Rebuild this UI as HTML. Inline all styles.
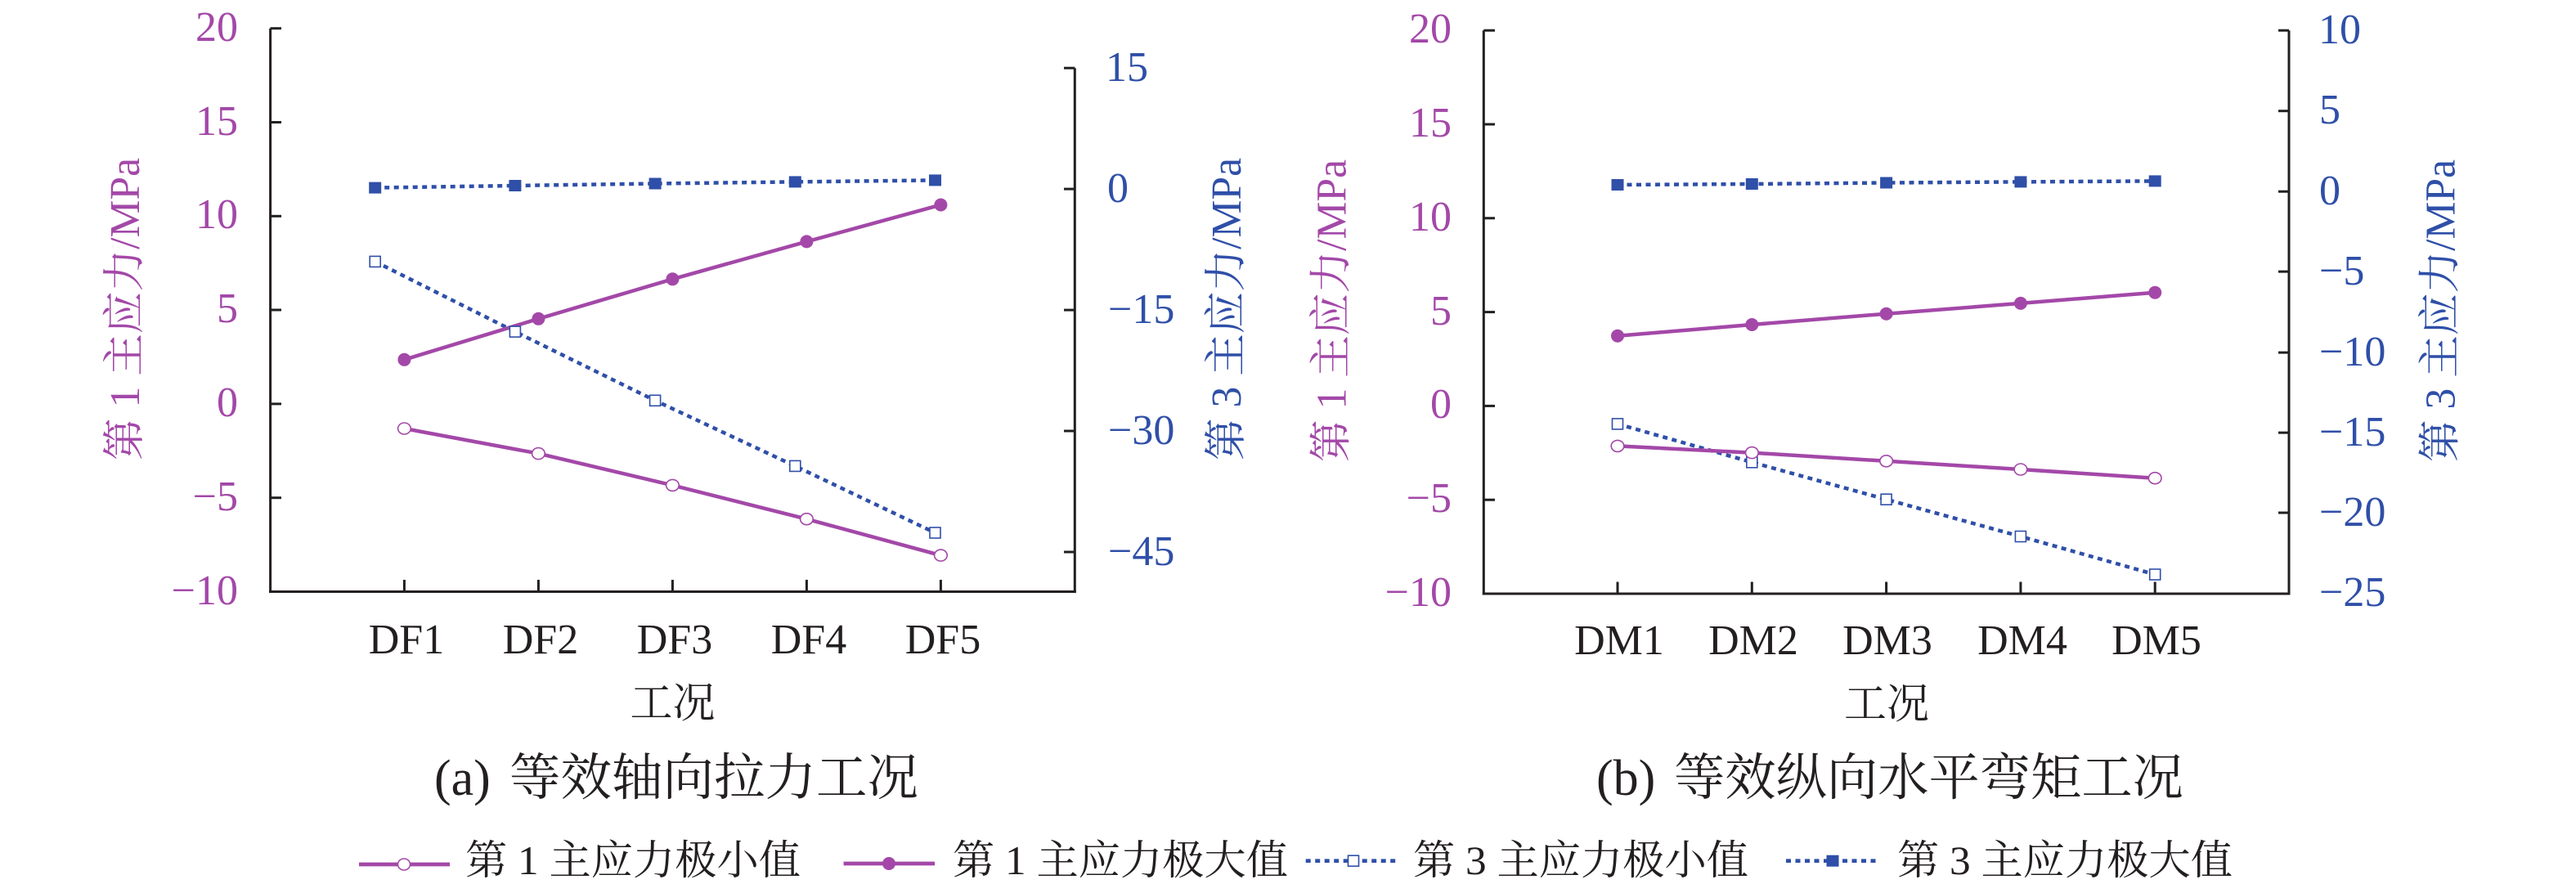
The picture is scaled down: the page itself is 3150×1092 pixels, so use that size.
<!DOCTYPE html>
<html>
<head>
<meta charset="utf-8">
<style>
html,body{margin:0;padding:0;background:#fff;}
svg{display:block;}
.t{font-family:"Liberation Serif","Noto Serif CJK SC",serif;}
</style>
</head>
<body>
<svg width="3150" height="1092" viewBox="0 0 3150 1092" xmlns="http://www.w3.org/2000/svg">
<rect width="3150" height="1092" fill="#fff"/>

<!-- ================= LEFT CHART ================= -->
<g stroke="#231f20" stroke-width="3" fill="none">
  <line x1="330.6" y1="34.7" x2="330.6" y2="725"/>
  <line x1="329" y1="723.5" x2="1315.8" y2="723.5"/>
  <line x1="1314.3" y1="83.2" x2="1314.3" y2="725"/>
  <!-- left ticks -->
  <line x1="330.6" y1="34.7" x2="344" y2="34.7"/>
  <line x1="330.6" y1="149.5" x2="344" y2="149.5"/>
  <line x1="330.6" y1="264.3" x2="344" y2="264.3"/>
  <line x1="330.6" y1="379" x2="344" y2="379"/>
  <line x1="330.6" y1="493.9" x2="344" y2="493.9"/>
  <line x1="330.6" y1="608.7" x2="344" y2="608.7"/>
  <!-- right ticks -->
  <line x1="1301" y1="83.2" x2="1314.3" y2="83.2"/>
  <line x1="1301" y1="231.1" x2="1314.3" y2="231.1"/>
  <line x1="1301" y1="379.1" x2="1314.3" y2="379.1"/>
  <line x1="1301" y1="527" x2="1314.3" y2="527"/>
  <line x1="1301" y1="675" x2="1314.3" y2="675"/>
  <!-- x ticks -->
  <line x1="494.4" y1="709" x2="494.4" y2="723.5"/>
  <line x1="658.4" y1="709" x2="658.4" y2="723.5"/>
  <line x1="822.4" y1="709" x2="822.4" y2="723.5"/>
  <line x1="986.4" y1="709" x2="986.4" y2="723.5"/>
  <line x1="1150.4" y1="709" x2="1150.4" y2="723.5"/>
</g>

<!-- left y labels -->
<g class="t" font-size="52" fill="#a348a8" text-anchor="end">
  <text x="291" y="50">20</text>
  <text x="291" y="165">15</text>
  <text x="291" y="279">10</text>
  <text x="291" y="394">5</text>
  <text x="291" y="509">0</text>
  <text x="291" y="624">−5</text>
  <text x="291" y="739">−10</text>
</g>
<!-- right y labels -->
<g class="t" font-size="52" fill="#2f4fa8" text-anchor="start">
  <text x="1352" y="99">15</text>
  <text x="1354" y="247">0</text>
  <text x="1355" y="395">−15</text>
  <text x="1355" y="543">−30</text>
  <text x="1355" y="691">−45</text>
</g>
<!-- x labels -->
<g class="t" font-size="52" fill="#231f20" text-anchor="middle">
  <text x="497" y="799">DF1</text>
  <text x="661" y="799">DF2</text>
  <text x="825" y="799">DF3</text>
  <text x="989" y="799">DF4</text>
  <text x="1153" y="799">DF5</text>
  <text x="822.5" y="861" dominant-baseline="central">工况</text>
</g>
<!-- axis titles -->
<text class="t" font-size="52" fill="#a348a8" text-anchor="middle" dominant-baseline="central" transform="translate(153.6,378) rotate(-90)" textLength="370" lengthAdjust="spacingAndGlyphs">第 1 主应力/MPa</text>
<text class="t" font-size="52" fill="#2f4fa8" text-anchor="middle" dominant-baseline="central" transform="translate(1500.5,378) rotate(-90)" textLength="370" lengthAdjust="spacingAndGlyphs">第 3 主应力/MPa</text>

<!-- series left -->
<polyline points="458.7,229.6 629.9,227 801.1,224.5 972.3,222.4 1143.5,220.4" fill="none" stroke="#2f4fa8" stroke-width="4.5" stroke-dasharray="6 5.5"/>
<polyline points="458.7,319.9 629.9,405.6 801.1,489.8 972.3,569.9 1143.5,651.5" fill="none" stroke="#2f4fa8" stroke-width="4.5" stroke-dasharray="6 5.5"/>
<polyline points="494.4,439.8 658.4,389.8 822.4,341.3 986.4,295.4 1150.4,250.5" fill="none" stroke="#a348a8" stroke-width="4.5"/>
<polyline points="494.4,524 658.4,554.6 822.4,593.4 986.4,634.7 1150.4,679.1" fill="none" stroke="#a348a8" stroke-width="4.5"/>
<g fill="#2f4fa8">
  <rect x="451.2" y="222.6" width="15" height="14"/>
  <rect x="622.4" y="220" width="15" height="14"/>
  <rect x="793.6" y="217.5" width="15" height="14"/>
  <rect x="964.8" y="215.4" width="15" height="14"/>
  <rect x="1136" y="213.4" width="15" height="14"/>
</g>
<g fill="#fff" stroke="#2f4fa8" stroke-width="1.6">
  <rect x="452.2" y="313.4" width="13" height="13"/>
  <rect x="623.4" y="399.1" width="13" height="13"/>
  <rect x="794.6" y="483.3" width="13" height="13"/>
  <rect x="965.8" y="563.4" width="13" height="13"/>
  <rect x="1137" y="645" width="13" height="13"/>
</g>
<g fill="#a348a8">
  <circle cx="494.4" cy="439.8" r="8"/>
  <circle cx="658.4" cy="389.8" r="8"/>
  <circle cx="822.4" cy="341.3" r="8"/>
  <circle cx="986.4" cy="295.4" r="8"/>
  <circle cx="1150.4" cy="250.5" r="8"/>
</g>
<g fill="#fff" stroke="#a348a8" stroke-width="1.6">
  <ellipse cx="494.4" cy="524" rx="7.8" ry="7"/>
  <ellipse cx="658.4" cy="554.6" rx="7.8" ry="7"/>
  <ellipse cx="822.4" cy="593.4" rx="7.8" ry="7"/>
  <ellipse cx="986.4" cy="634.7" rx="7.8" ry="7"/>
  <ellipse cx="1150.4" cy="679.1" rx="7.8" ry="7"/>
</g>

<!-- ================= RIGHT CHART ================= -->
<g stroke="#231f20" stroke-width="3" fill="none">
  <line x1="1814.3" y1="37.2" x2="1814.3" y2="727.5"/>
  <line x1="1812.8" y1="726" x2="2800.5" y2="726"/>
  <line x1="2799" y1="37.2" x2="2799" y2="727.5"/>
  <line x1="1814.3" y1="37.2" x2="1828" y2="37.2"/>
  <line x1="1814.3" y1="152" x2="1828" y2="152"/>
  <line x1="1814.3" y1="266.8" x2="1828" y2="266.8"/>
  <line x1="1814.3" y1="381.6" x2="1828" y2="381.6"/>
  <line x1="1814.3" y1="496.4" x2="1828" y2="496.4"/>
  <line x1="1814.3" y1="611.2" x2="1828" y2="611.2"/>
  <line x1="2786" y1="37.2" x2="2799" y2="37.2"/>
  <line x1="2786" y1="135.7" x2="2799" y2="135.7"/>
  <line x1="2786" y1="234.2" x2="2799" y2="234.2"/>
  <line x1="2786" y1="332.1" x2="2799" y2="332.1"/>
  <line x1="2786" y1="431.1" x2="2799" y2="431.1"/>
  <line x1="2786" y1="529.1" x2="2799" y2="529.1"/>
  <line x1="2786" y1="627" x2="2799" y2="627"/>
  <line x1="1978" y1="711.5" x2="1978" y2="726"/>
  <line x1="2142.3" y1="711.5" x2="2142.3" y2="726"/>
  <line x1="2306.6" y1="711.5" x2="2306.6" y2="726"/>
  <line x1="2470.9" y1="711.5" x2="2470.9" y2="726"/>
  <line x1="2635.2" y1="711.5" x2="2635.2" y2="726"/>
</g>
<g class="t" font-size="52" fill="#a348a8" text-anchor="end">
  <text x="1775" y="52">20</text>
  <text x="1775" y="167">15</text>
  <text x="1775" y="282">10</text>
  <text x="1775" y="397">5</text>
  <text x="1775" y="511">0</text>
  <text x="1775" y="626">−5</text>
  <text x="1775" y="741">−10</text>
</g>
<g class="t" font-size="52" fill="#2f4fa8" text-anchor="start">
  <text x="2835" y="53">10</text>
  <text x="2836" y="151">5</text>
  <text x="2836" y="250">0</text>
  <text x="2836" y="348">−5</text>
  <text x="2836" y="447">−10</text>
  <text x="2836" y="545">−15</text>
  <text x="2836" y="643">−20</text>
  <text x="2836" y="741">−25</text>
</g>
<g class="t" font-size="52" fill="#231f20" text-anchor="middle">
  <text x="1980" y="800">DM1</text>
  <text x="2144" y="800">DM2</text>
  <text x="2308" y="800">DM3</text>
  <text x="2473" y="800">DM4</text>
  <text x="2637" y="800">DM5</text>
  <text x="2307" y="862" dominant-baseline="central">工况</text>
</g>
<text class="t" font-size="52" fill="#a348a8" text-anchor="middle" dominant-baseline="central" transform="translate(1629,380) rotate(-90)" textLength="370" lengthAdjust="spacingAndGlyphs">第 1 主应力/MPa</text>
<text class="t" font-size="52" fill="#2f4fa8" text-anchor="middle" dominant-baseline="central" transform="translate(2985,380) rotate(-90)" textLength="370" lengthAdjust="spacingAndGlyphs">第 3 主应力/MPa</text>

<polyline points="1978,226 2142.3,225 2306.6,223.5 2470.9,222.4 2635.2,221.4" fill="none" stroke="#2f4fa8" stroke-width="4.5" stroke-dasharray="6 5.5"/>
<polyline points="1978,518.4 2142.3,565.3 2306.6,610.7 2470.9,656 2635.2,702.5" fill="none" stroke="#2f4fa8" stroke-width="4.5" stroke-dasharray="6 5.5"/>
<polyline points="1978,410.7 2142.3,397 2306.6,383.7 2470.9,370.9 2635.2,357.7" fill="none" stroke="#a348a8" stroke-width="4.5"/>
<polyline points="1978,545.4 2142.3,553.6 2306.6,563.8 2470.9,574 2635.2,584.7" fill="none" stroke="#a348a8" stroke-width="4.5"/>
<g fill="#2f4fa8">
  <rect x="1970.5" y="219" width="15" height="14"/>
  <rect x="2134.8" y="218" width="15" height="14"/>
  <rect x="2299.1" y="216.5" width="15" height="14"/>
  <rect x="2463.4" y="215.4" width="15" height="14"/>
  <rect x="2627.7" y="214.4" width="15" height="14"/>
</g>
<g fill="#fff" stroke="#2f4fa8" stroke-width="1.6">
  <rect x="1971.5" y="511.9" width="13" height="13"/>
  <rect x="2135.8" y="558.8" width="13" height="13"/>
  <rect x="2300.1" y="604.2" width="13" height="13"/>
  <rect x="2464.4" y="649.5" width="13" height="13"/>
  <rect x="2628.7" y="696" width="13" height="13"/>
</g>
<g fill="#a348a8">
  <circle cx="1978" cy="410.7" r="8"/>
  <circle cx="2142.3" cy="397" r="8"/>
  <circle cx="2306.6" cy="383.7" r="8"/>
  <circle cx="2470.9" cy="370.9" r="8"/>
  <circle cx="2635.2" cy="357.7" r="8"/>
</g>
<g fill="#fff" stroke="#a348a8" stroke-width="1.6">
  <ellipse cx="1978" cy="545.4" rx="7.8" ry="7"/>
  <ellipse cx="2142.3" cy="553.6" rx="7.8" ry="7"/>
  <ellipse cx="2306.6" cy="563.8" rx="7.8" ry="7"/>
  <ellipse cx="2470.9" cy="574" rx="7.8" ry="7"/>
  <ellipse cx="2635.2" cy="584.7" rx="7.8" ry="7"/>
</g>

<!-- ================= CAPTIONS ================= -->
<g class="t" font-size="62" fill="#231f20" dominant-baseline="central">
  <text x="531" y="952">(a)</text>
  <text x="623" y="952" textLength="500" lengthAdjust="spacingAndGlyphs">等效轴向拉力工况</text>
  <text x="1952" y="952">(b)</text>
  <text x="2047" y="952" textLength="623" lengthAdjust="spacingAndGlyphs">等效纵向水平弯矩工况</text>
</g>

<!-- ================= LEGEND ================= -->
<line x1="439" y1="1057" x2="550" y2="1057" stroke="#a348a8" stroke-width="4.7"/>
<ellipse cx="494" cy="1057" rx="7.5" ry="7" fill="#fff" stroke="#a348a8" stroke-width="1.6"/>
<line x1="1031.6" y1="1056" x2="1143" y2="1056" stroke="#a348a8" stroke-width="4.7"/>
<circle cx="1087" cy="1056" r="8" fill="#a348a8"/>
<line x1="1596.7" y1="1052.7" x2="1711" y2="1052.7" stroke="#2f4fa8" stroke-width="4.7" stroke-dasharray="6 5.5"/>
<rect x="1648.5" y="1046.2" width="13" height="13" fill="#fff" stroke="#2f4fa8" stroke-width="1.6"/>
<line x1="2184" y1="1052.7" x2="2298" y2="1052.7" stroke="#2f4fa8" stroke-width="4.7" stroke-dasharray="6 5.5"/>
<rect x="2233.5" y="1045.7" width="15" height="14" fill="#2f4fa8"/>
<g class="t" font-size="50" fill="#231f20" dominant-baseline="central">
  <text x="569" y="1052" textLength="410" lengthAdjust="spacingAndGlyphs">第 1 主应力极小值</text>
  <text x="1165" y="1052" textLength="410" lengthAdjust="spacingAndGlyphs">第 1 主应力极大值</text>
  <text x="1728" y="1052" textLength="410" lengthAdjust="spacingAndGlyphs">第 3 主应力极小值</text>
  <text x="2320" y="1052" textLength="410" lengthAdjust="spacingAndGlyphs">第 3 主应力极大值</text>
</g>
</svg>
</body>
</html>
